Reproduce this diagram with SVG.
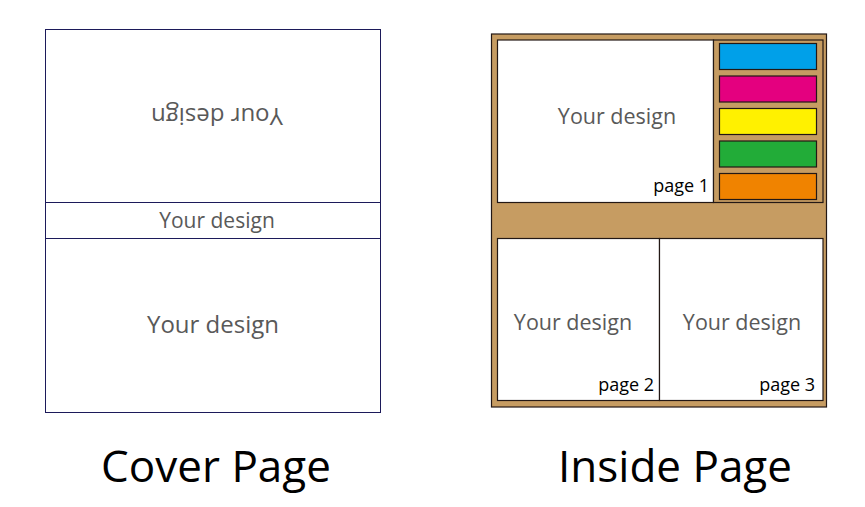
<svg xmlns="http://www.w3.org/2000/svg" width="865" height="507" viewBox="0 0 865 507">
<style>
.design{font-family:"Open Sans","Noto Sans",sans-serif;fill:#595959;text-anchor:middle}
.pg{font-family:"Open Sans","Noto Sans",sans-serif;fill:#000;font-size:18px;text-anchor:end}
.title{font-family:"Open Sans","Noto Sans",sans-serif;fill:#000;font-size:44px;text-anchor:middle}
.cov{fill:#fff;stroke:#1c1a5a;stroke-width:1}
.ins{stroke:#231815;stroke-width:1.2}
.tan{fill:#c69c62}
.white{fill:#fff}
</style>
<rect width="865" height="507" fill="#fff"/>
<g id="cover">
  <rect class="cov" x="45.5" y="29.5" width="335" height="383"/>
  <line x1="45.5" y1="202.5" x2="380.5" y2="202.5" stroke="#1c1a5a"/>
  <line x1="45.5" y1="238.5" x2="380.5" y2="238.5" stroke="#1c1a5a"/>
  <text class="design" font-size="24" transform="translate(217,108) rotate(180)" x="0" y="0">Your design</text>
  <text class="design" font-size="21" x="217" y="228">Your design</text>
  <text class="design" font-size="24" x="213" y="333">Your design</text>
</g>
<g id="inside">
  <rect class="ins tan" x="491.5" y="34" width="335" height="373"/>
  <rect class="ins white" x="497.5" y="40" width="216" height="162.5"/>
  <rect class="ins tan" x="713.5" y="40" width="109.5" height="162.5"/>
  <rect class="ins white" x="497.5" y="238.5" width="162" height="162"/>
  <rect class="ins white" x="659.5" y="238.5" width="163.5" height="162"/>
  <rect class="ins" fill="#00a0e9" x="719.5" y="43.5" width="97" height="26"/>
  <rect class="ins" fill="#e4007f" x="719.5" y="76" width="97" height="26"/>
  <rect class="ins" fill="#fff100" x="719.5" y="108.5" width="97" height="26"/>
  <rect class="ins" fill="#22ac38" x="719.5" y="141" width="97" height="26"/>
  <rect class="ins" fill="#f08300" x="719.5" y="173.5" width="97" height="26"/>
  <text class="design" font-size="21.5" x="617" y="124">Your design</text>
  <text class="pg" x="709" y="192">page 1</text>
  <text class="design" font-size="21.5" x="573" y="330">Your design</text>
  <text class="pg" x="654" y="391">page 2</text>
  <text class="design" font-size="21.5" x="742" y="330">Your design</text>
  <text class="pg" x="815" y="391">page 3</text>
</g>
<g id="labels">
  <text class="title" x="216" y="482">Cover Page</text>
  <text class="title" x="675" y="482">Inside Page</text>
</g>
<g id="connectors"/>
</svg>
